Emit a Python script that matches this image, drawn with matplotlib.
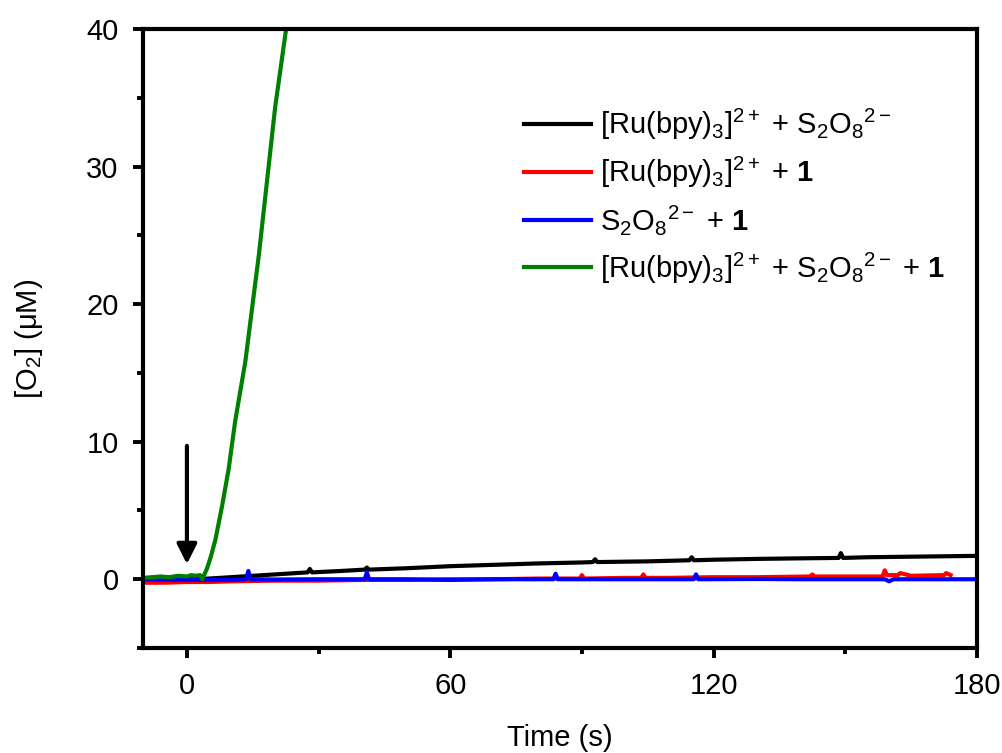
import matplotlib
matplotlib.use("Agg")
import matplotlib.pyplot as plt
from matplotlib.ticker import MultipleLocator

plt.rcParams["font.family"] = ["Liberation Sans", "DejaVu Sans"]
plt.rcParams["mathtext.fontset"] = "custom"
plt.rcParams["mathtext.rm"] = "Liberation Sans"
plt.rcParams["mathtext.it"] = "Liberation Sans:italic"
plt.rcParams["mathtext.bf"] = "Liberation Sans:bold"

# ---- data (time in s, [O2] in uM) -------------------------------------------
t_black = [-10, -5, 0, 5, 10, 15, 20, 27.5, 28, 28.5, 35, 40.5, 41, 41.5, 50,
           60, 70, 80, 90, 92.5, 93, 93.5, 105, 114.5, 115, 115.5, 120, 130,
           140, 148.5, 149, 149.5, 155, 160, 170, 180]
o2_black = [0.0, 0.0, 0.0, 0.05, 0.15, 0.25, 0.35, 0.5, 0.75, 0.5, 0.6, 0.7,
            0.85, 0.7, 0.8, 0.95, 1.05, 1.15, 1.22, 1.25, 1.45, 1.25, 1.3,
            1.38, 1.6, 1.38, 1.42, 1.48, 1.52, 1.55, 1.9, 1.55, 1.6, 1.62,
            1.66, 1.7]

t_red = [-10, -5, 0, 5, 10, 20, 30, 40, 50, 60, 70, 80, 89.5, 90, 90.5, 100,
         103.5, 104, 104.5, 110, 120, 130, 142, 142.5, 143, 150, 158.5, 159,
         159.5, 162, 162.5, 165, 172.5, 173, 174]
o2_red = [-0.25, -0.25, -0.2, -0.2, -0.15, -0.1, -0.1, -0.05, -0.05, 0.0, 0.0,
          0.05, 0.05, 0.3, 0.05, 0.1, 0.1, 0.35, 0.1, 0.1, 0.15, 0.15, 0.2,
          0.35, 0.2, 0.2, 0.2, 0.65, 0.3, 0.3, 0.45, 0.25, 0.3, 0.45, 0.3]

t_blue = [-10, 0, 10, 13.5, 14, 14.5, 20, 30, 40.5, 41, 41.5, 50, 60, 70,
          83.5, 84, 84.5, 100, 110, 115.5, 116, 116.5, 130, 140, 159, 160,
          161, 170, 180]
o2_blue = [0.0, -0.05, -0.05, 0.0, 0.6, 0.0, -0.02, 0.0, 0.0, 0.5, 0.0, 0.0,
           -0.05, 0.0, 0.0, 0.4, 0.0, 0.0, 0.0, 0.0, 0.35, 0.0, 0.02, 0.0,
           0.0, -0.15, 0.0, 0.0, 0.0]

t_green = [-10, -8, -6, -4, -2, 0, 1, 2, 3, 3.5, 4.6, 5.5, 6.5, 8, 9.5, 11,
           13.3, 16.4, 20.1, 22.6, 24]
o2_green = [0.1, 0.15, 0.2, 0.15, 0.25, 0.2, 0.3, 0.25, 0.3, 0.0, 0.8, 1.7,
            2.9, 5.3, 8.0, 11.5, 15.8, 23.6, 34.3, 40.0, 43.5]

labels = [r"[Ru(bpy)$_3$]$^{2+}$ + S$_2$O$_8$$^{2-}$",
          r"[Ru(bpy)$_3$]$^{2+}$ + $\mathbf{1}$",
          r"S$_2$O$_8$$^{2-}$ + $\mathbf{1}$",
          r"[Ru(bpy)$_3$]$^{2+}$ + S$_2$O$_8$$^{2-}$ + $\mathbf{1}$"]
colors = ["#000000", "#ff0000", "#0000ff", "#008000"]

FS = 21

fig = plt.figure(figsize=(10.03, 7.53), dpi=100)
ax = fig.add_axes([0.1426, 0.1394, 0.8314, 0.8221])

series = [(t_black, o2_black), (t_red, o2_red), (t_blue, o2_blue),
          (t_green, o2_green)]
for (t, y), c, lab in zip(series, colors, labels):
    ax.plot(t, y, color=c, lw=3.0, label=lab, solid_joinstyle="round")

# injection arrow
ax.annotate("", xy=(0, 1.1), xytext=(0, 9.7),
            arrowprops=dict(arrowstyle="-|>", lw=3.0, color="k",
                            mutation_scale=30, shrinkA=0, shrinkB=0))

ax.set_xlim(-10, 180)
ax.set_ylim(-5, 40)
ax.xaxis.set_major_locator(MultipleLocator(60))
ax.xaxis.set_minor_locator(MultipleLocator(30))
ax.yaxis.set_major_locator(MultipleLocator(10))
ax.yaxis.set_minor_locator(MultipleLocator(5))
ax.tick_params(which="major", direction="out", length=7.5, width=2.8,
               labelsize=FS)
ax.tick_params(axis="x", which="major", pad=10)
ax.tick_params(axis="y", which="major", pad=10)
ax.tick_params(which="minor", direction="out", length=4.5, width=2.8)
for s in ax.spines.values():
    s.set_linewidth(3.0)

ax.set_xlabel("Time (s)", fontsize=FS, labelpad=17)
ax.set_ylabel(r"[O$_2$] (μM)", fontsize=FS, labelpad=30)

ax.legend(loc="upper left", bbox_to_anchor=(0.425, 0.917), frameon=False,
          fontsize=FS, handlelength=2.3, handletextpad=0.3,
          labelspacing=0.45)

fig.savefig("out.png", dpi=100)
